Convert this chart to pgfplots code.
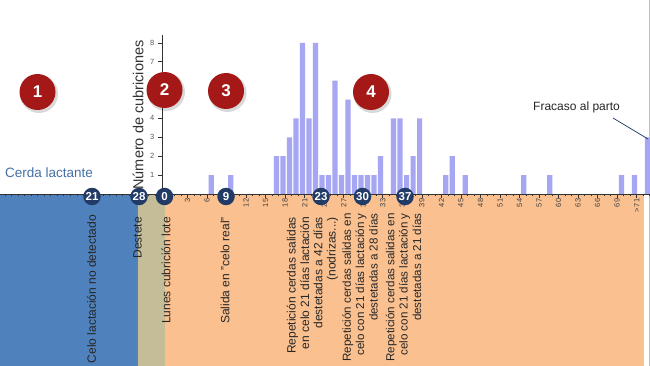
\documentclass[border=0pt]{standalone}
\usepackage{fontspec}
\setmainfont{Liberation Sans}
\usepackage{pgfplots}
\pgfplotsset{compat=1.18}
\definecolor{barblue}{RGB}{166,166,242}
\definecolor{lacblue}{RGB}{79,129,189}
\definecolor{tanc}{RGB}{196,189,151}
\definecolor{peach}{RGB}{250,192,144}
\definecolor{redc}{RGB}{165,24,24}
\definecolor{navy}{RGB}{33,58,102}
\definecolor{cerda}{RGB}{70,112,165}
\begin{document}
\begin{tikzpicture}
\path[use as bounding box] (0pt,0pt) rectangle (650pt,-366pt);
\begin{scope}[x=1pt,y=-1pt]
  \fill[white] (0,0) rectangle (650,366);
  \fill[lacblue] (0,194) rectangle (137.7,366);
  \fill[tanc] (137.7,194) rectangle (164.5,366);
  \fill[peach] (164.5,194) rectangle (644,366);
  \draw[black!25, line width=0.8pt] (649.5,0) -- (649.5,366);
\end{scope}

% x-axis strip with ticks
\begin{axis}[
  at={(0pt,-194pt)}, anchor=south west,
  x=6.51pt, y=1pt, xmin=-25.8, xmax=74.2, ymin=0, ymax=1,
  axis x line=bottom, axis y line=none,
  axis line style={-, draw=black!80, line width=0.8pt},
  xtick={3,6,...,72},
  xticklabels={3,6,9,12,15,18,21,24,27,30,33,36,39,42,45,48,51,54,57,60,63,66,69,{>\,71}},
  minor xtick={-25,-24,...,74},
  tick align=outside,
  major tick length=4pt, minor tick length=2.5pt,
  every tick/.style={black!80, line width=0.6pt},
  xticklabel style={rotate=90, anchor=east, font=\fontsize{7.5}{8}\selectfont, text=black!75, inner sep=0.5pt},
]
\addplot[draw=none] coordinates {(0,0)};
\end{axis}

% bar chart
\begin{axis}[
  at={(162.8pt,-194pt)}, anchor=south west,
  x=6.51pt, y=18.9pt, xmin=-0.8, xmax=74.2, ymin=0, ymax=8.4,
  axis y line=left, axis x line=none,
  axis line style={-, draw=black!80, line width=0.8pt},
  ytick={1,...,8}, tick align=outside, major tick length=5pt,
  every tick/.style={black!80, line width=0.6pt},
  yticklabel style={font=\fontsize{7.5}{8}\selectfont, text=black!65},
  /pgf/number format/assume math mode=true,
]
\addplot[ybar, bar width=5.2pt, bar shift=4.23pt, fill=barblue, draw=none] coordinates {
(6,1)(9,1)(16,2)(17,2)(18,3)(19,4)(20,8)(21,4)(22,8)(23,1)(24,1)(25,6)(26,1)(27,5)
(28,1)(29,1)(30,1)(31,1)(32,2)(34,4)(35,4)(36,1)(37,2)(38,4)(42,1)(43,2)(45,1)
(54,1)(58,1)(69,1)(71,1)(73,3)};
\end{axis}

\begin{scope}[x=1pt,y=-1pt]
  % y label
  \node[rotate=90, font=\fontsize{14.5}{16}\selectfont, text=black!80, inner sep=0] at (138,115) {Número de cubriciones};
  % Cerda lactante
  \node[anchor=base west, font=\fontsize{13.5}{16}\selectfont, text=cerda, inner sep=0] at (5,178) {Cerda lactante};
  % Fracaso al parto
  \node[anchor=base west, font=\fontsize{12}{14}\selectfont, text=black!85, inner sep=0] at (533,111) {Fracaso al parto};
  \draw[navy, line width=0.7pt] (613,118) -- (648,139);
  % red circles
  \foreach \cx/\cy/\t in {37.5/92/1, 164.5/90/2, 226/91/3, 371/92/4} {
    \fill[black, opacity=0.15] (\cx+1.5,\cy+2) circle (19);
    \fill[redc] (\cx,\cy) circle (18);
    \node[text=white, font=\fontsize{17}{18}\selectfont\bfseries] at (\cx,\cy) {\t};
  }
  % navy circles
  \foreach \cx/\t in {92/21, 139/28, 164.5/0, 226/9, 321/23, 362.5/30, 405/37} {
    \node[circle, fill=navy, inner sep=0, minimum size=17.5pt, text=white, font=\fontsize{11.5}{12}\selectfont\bfseries] at (\cx,196.5) {\t};
  }
  % rotated texts
  \begin{scope}[every node/.style={rotate=90, anchor=east, inner sep=0, font=\fontsize{12}{13.3}\selectfont, text=black!85}]
    \node at (91.5,215) {Celo lactación no detectado};
    \node at (137.5,217) {Destete};
    \node at (166,217) {Lunes cubrición lote};
    \node at (225,217) {Salida en "celo real"};
    \node[align=right] at (312.5,217) {Repetición cerdas salidas\\en celo 21 días lactación\\destetadas a 42 días\\(nodrizas...)};
    \node[align=right, font=\fontsize{11.6}{13.3}\selectfont] at (360,213) {Repetición cerdas salidas en\\celo con 21 días lactación y\\destetadas a 28 días};
    \node[align=right, font=\fontsize{11.6}{13.3}\selectfont] at (403.5,213) {Repetición cerdas salidas en\\celo con 21 días lactación y\\destetadas a 21 días};
  \end{scope}
\end{scope}
\end{tikzpicture}
\end{document}
